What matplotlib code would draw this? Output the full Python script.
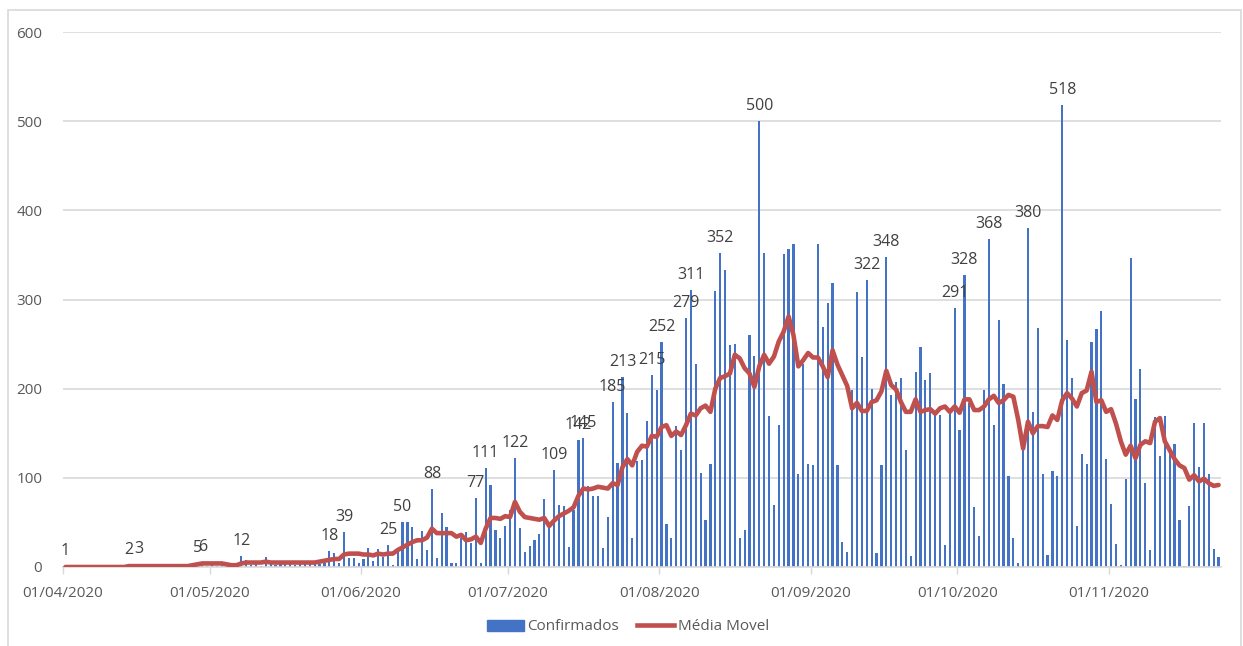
import matplotlib.pyplot as plt
from matplotlib.patches import Rectangle
from matplotlib.lines import Line2D

plt.rcParams['font.family'] = ['Open Sans', 'DejaVu Sans']

# casos confirmados por dia, de 01/04/2020 a 23/11/2020
confirmados = [
    1, 0, 0, 0, 0, 0, 0, 0, 0, 0,            # 01/04
    0, 0, 0, 2, 0, 3, 0, 0, 1, 0,
    0, 0, 0, 0, 1, 0, 1, 5, 6, 1,
    2, 1, 2, 1, 0, 1, 12, 8, 2, 3,           # 01/05 = idx 30
    1, 11, 3, 2, 4, 3, 4, 2, 3, 4,
    3, 4, 3, 5, 18, 16, 5, 39, 10, 10,
    4, 9, 21, 7, 20, 11, 25, 2, 19, 50,      # 01/06 = idx 61
    50, 45, 9, 40, 19, 88, 10, 61, 45, 4,
    4, 33, 39, 27, 77, 5, 111, 92, 41, 32,
    46, 64, 122, 44, 17, 24, 30, 37, 76, 45,  # 01/07 = idx 91
    109, 70, 68, 22, 64, 142, 145, 91, 80, 80,
    21, 56, 185, 117, 213, 173, 32, 119, 120, 164,
    215, 198, 252, 48, 32, 158, 131, 279, 311, 228,  # 01/08 = idx 122
    105, 53, 116, 309, 352, 333, 249, 250, 32, 42,
    260, 237, 500, 352, 169, 70, 159, 351, 357, 362,
    104, 228, 116, 114, 362, 269, 296, 319, 114, 28,  # 01/09 = idx 153
    17, 199, 308, 236, 322, 200, 16, 114, 348, 193,
    207, 212, 131, 12, 219, 247, 210, 218, 172, 170,
    25, 172, 291, 154, 328, 184, 67, 35, 198, 368,   # 01/10 = idx 183
    159, 277, 205, 102, 33, 4, 142, 380, 174, 268,
    104, 13, 108, 102, 518, 255, 212, 46, 127, 116,
    252, 267, 287, 121, 71, 26, 2, 99, 346, 188,     # 01/11 = idx 214
    222, 94, 19, 168, 124, 169, 131, 138, 53, 1,
    68, 162, 112, 162, 104, 20, 11,
]

# media movel
media_movel = [
    0, 0, 0, 0, 0, 0, 0, 0, 0, 0,
    0, 0, 0, 1, 1, 1, 1, 1, 1, 1,
    1, 1, 1, 1, 1, 1, 2, 3, 4, 4,
    4, 4, 4, 3, 2, 2, 4, 5, 5, 5,
    5, 6, 5, 5, 5, 5, 5, 5, 5, 5,
    5, 5, 6, 7, 8, 9, 9, 14, 15, 15,
    15, 14, 14, 13, 15, 14, 15, 15, 19, 22,
    25, 28, 30, 30, 33, 43, 38, 38, 38, 38,
    34, 36, 30, 31, 34, 27, 43, 55, 55, 54,
    57, 56, 73, 62, 56, 55, 54, 53, 55, 46,
    52, 57, 60, 63, 67, 80, 88, 87, 88, 90,
    89, 88, 94, 92, 112, 121, 114, 129, 136, 135,
    147, 146, 157, 159, 147, 152, 148, 159, 172, 170,
    178, 181, 174, 200, 212, 214, 217, 238, 234, 223,
    217, 202, 225, 238, 228, 236, 253, 264, 281, 260,
    225, 232, 240, 235, 235, 225, 213, 243, 227, 215,
    203, 178, 184, 175, 175, 185, 187, 197, 220, 204,
    199, 185, 174, 174, 188, 174, 176, 177, 172, 178,
    180, 174, 180, 173, 188, 188, 176, 176, 180, 188,
    192, 184, 187, 193, 191, 165, 133, 163, 150, 158,
    158, 157, 170, 165, 187, 195, 189, 180, 195, 198,
    219, 185, 187, 174, 177, 161, 141, 126, 136, 122,
    137, 141, 139, 163, 167, 141, 131, 121, 114, 111,
    98, 103, 96, 99, 94, 91, 92,
]

# dias com rotulo de dados
rotulos_idx = [0, 13, 15, 27, 28, 36, 54, 57, 66, 69, 75, 84, 86, 92, 100,
               105, 106, 112, 114, 120, 122, 127, 128, 134, 142, 164, 168,
               182, 184, 189, 197, 204]

tick_idx = [0, 30, 61, 91, 122, 153, 183, 214]
tick_labels = ['01/04/2020', '01/05/2020', '01/06/2020', '01/07/2020',
               '01/08/2020', '01/09/2020', '01/10/2020', '01/11/2020']

W, H = 1243, 646
fig = plt.figure(figsize=(W / 100, H / 100), dpi=100)
ax = fig.add_axes([63 / W, (H - 567) / H, (1221 - 63) / W, (567 - 32) / H])

# borda externa do grafico
fig.patches.append(Rectangle((8 / W, -0.05), (1241 - 8) / W, (H - 10) / H + 0.05,
                             transform=fig.transFigure, fill=False,
                             edgecolor='#D9D9D9', linewidth=1.2))

blue = '#4472C4'
red = '#C0504D'
dias = list(range(len(confirmados)))

ax.bar(dias, confirmados, width=0.45, color=blue, zorder=2)
ax.plot(dias, media_movel, color=red, linewidth=3.3, solid_capstyle='round',
        solid_joinstyle='round', zorder=3)

for i in rotulos_idx:
    ax.annotate(str(confirmados[i]), (i, confirmados[i]), xytext=(0, 5),
                textcoords='offset points', ha='center', va='bottom',
                fontsize=11.5, color='#404040', zorder=4)

ax.set_xlim(-0.5, len(confirmados) - 0.5)
ax.set_ylim(0, 600)
ax.set_yticks(range(0, 601, 100))
ax.set_xticks([t - 0.5 for t in tick_idx])
ax.set_xticklabels(tick_labels)
ax.tick_params(axis='y', length=0, pad=15, labelsize=11, labelcolor='#595959')
ax.tick_params(axis='x', length=5, width=1, color='#D9D9D9', pad=9,
               labelsize=11, labelcolor='#595959')
ax.grid(axis='y', color='#D9D9D9', linewidth=1.2, zorder=0)
ax.set_axisbelow(True)
for s in ['top', 'right', 'left']:
    ax.spines[s].set_visible(False)
ax.spines['bottom'].set_color('#D9D9D9')
ax.spines['bottom'].set_linewidth(1.2)

handles = [Rectangle((0, 0), 1, 1, color=blue),
           Line2D([0], [0], color=red, linewidth=3.3)]
fig.legend(handles, ['Confirmados', 'Média Movel'], loc='center',
           bbox_to_anchor=(628 / W, (H - 627) / H), ncol=2, frameon=False,
           fontsize=11, labelcolor='#595959', handlelength=2.4,
           handletextpad=0.25, columnspacing=1.2)

fig.savefig('out.png', dpi=100)
